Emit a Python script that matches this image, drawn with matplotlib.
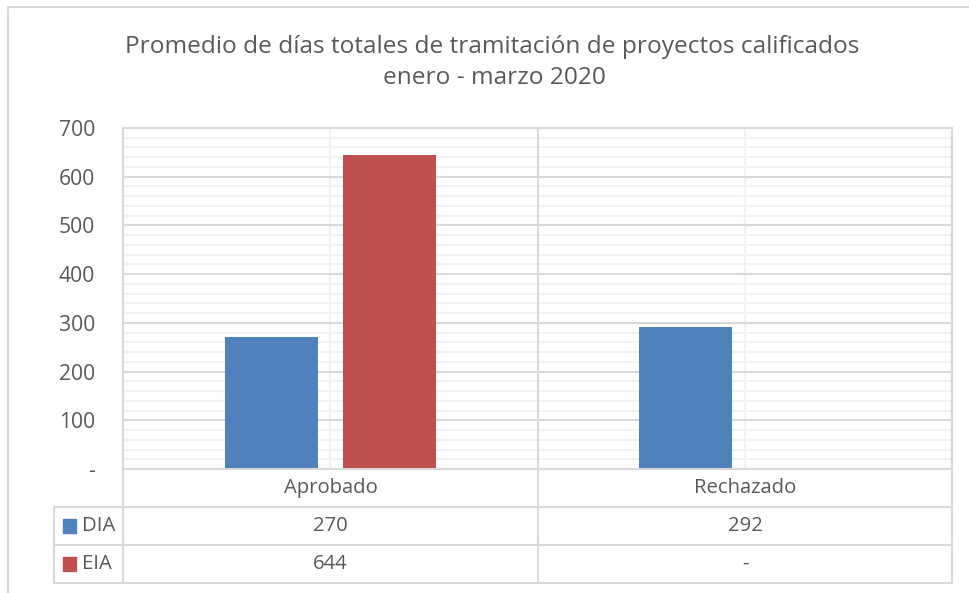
import numpy as np
import matplotlib
matplotlib.use("Agg")
import matplotlib.pyplot as plt
from matplotlib.patches import Rectangle
from matplotlib.lines import Line2D

# Datos del gráfico
categorias = ["Aprobado", "Rechazado"]
series = ["DIA", "EIA"]
dia = [270, 292]
eia = [644, 0]
etiquetas_eia = ["644", "-"]
etiquetas_dia = ["270", "292"]
y_ticks = [0, 100, 200, 300, 400, 500, 600, 700]
y_labels = ["-", "100", "200", "300", "400", "500", "600", "700"]

colores = ["#4F81BD", "#C0504D"]
texto = "#595959"
linea = "#D9D9D9"

plt.rcParams['font.family'] = ['Open Sans', 'DejaVu Sans']

W, H = 970, 593
fig = plt.figure(figsize=(W / 100, H / 100), dpi=100)

def fx(px):
    return px / W

def fy(py):
    return 1 - py / H

# borde exterior del gráfico
fig.add_artist(Line2D([fx(8), fx(8)], [fy(7), 0], color=linea, lw=1.5))
fig.add_artist(Line2D([fx(8), 1], [fy(7), fy(7)], color=linea, lw=1.5))

fig.text(fx(492), fy(47), "Promedio de días totales de tramitación de proyectos calificados",
         ha="center", va="center", fontsize=17.6, color=texto)
fig.text(fx(494), fy(78), "enero - marzo 2020", ha="center", va="center", fontsize=17.6, color=texto)

left, right, top, bottom = 123, 952, 128, 469
ax = fig.add_axes([fx(left), fy(bottom), fx(right - left), fy(top) - fy(bottom)])

x = np.arange(len(categorias))
ancho = 0.224
ax.bar(x - 0.142, dia, width=ancho, color=colores[0], zorder=3)
ax.bar(x[:1] + 0.142, eia[:1], width=ancho, color=colores[1], zorder=3)

ax.set_xlim(-0.5, 1.5)
ax.set_ylim(0, 700)
ax.set_yticks(y_ticks)
ax.set_yticklabels(y_labels, fontsize=15.2, color=texto)
ax.set_yticks(np.arange(0, 701, 20), minor=True)
ax.tick_params(axis="y", length=0, pad=20, which="both")
ax.tick_params(axis="x", length=0, labelbottom=False)
ax.set_xticks([])
ax.set_xticks(x, minor=True)
ax.tick_params(axis="x", which="minor", length=0)
ax.grid(axis="y", which="minor", color="#F2F2F2", lw=1.5, zorder=0)
ax.grid(axis="y", which="major", color=linea, lw=1.5, zorder=1)
ax.grid(axis="x", which="minor", color="#F2F2F2", lw=1.5, zorder=0)
for s in ax.spines.values():
    s.set_color(linea)
    s.set_linewidth(1.5)
ax.spines["bottom"].set_visible(False)

# tabla de datos bajo el eje
mid = 538
filas = [469, 507, 545, 583]
leg_x = 42
lw = 1.5
def hline(y, x0, x1):
    fig.add_artist(Line2D([fx(x0), fx(x1)], [fy(y), fy(y)], color=linea, lw=lw))

def vline(x0, y0, y1):
    fig.add_artist(Line2D([fx(x0), fx(x0)], [fy(y0), fy(y1)], color=linea, lw=lw))

hline(filas[0], left, right)
for yy in filas[1:]:
    hline(yy, leg_x + 12, right)
vline(left, filas[0], filas[3])
vline(mid, top, filas[3])
vline(right, filas[0], filas[3])
vline(leg_x + 12, filas[1], filas[3])

centros = [(left + mid) / 2, (mid + right) / 2]
for c, cat in zip(centros, categorias):
    fig.text(fx(c), fy((filas[0] + filas[1]) / 2), cat, ha="center", va="center",
             fontsize=14.6, color=texto)

valores = [etiquetas_dia, etiquetas_eia]
for i, (nombre, col) in enumerate(zip(series, colores)):
    yc = (filas[i + 1] + filas[i + 2]) / 2
    fig.add_artist(Rectangle((fx(63), fy(yc + 7)), fx(13), fy(yc - 7) - fy(yc + 7), color=col))
    fig.text(fx(82), fy(yc), nombre, ha="left", va="center", fontsize=14.6, color=texto)
    for c, v in zip(centros, valores[i]):
        fig.text(fx(c), fy(yc), v, ha="center", va="center", fontsize=14.6, color=texto)

fig.savefig("out.png", dpi=100)
